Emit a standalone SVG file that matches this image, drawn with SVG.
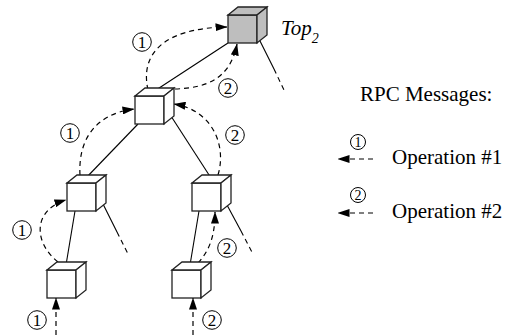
<svg xmlns="http://www.w3.org/2000/svg" xmlns:xlink="http://www.w3.org/1999/xlink" width="510" height="335" viewBox="0 0 510 335">
  <style>
    .edge { fill: none; stroke: #000; stroke-width: 1.1; }
    .leaf { fill: none; stroke: #000; stroke-width: 1.1; stroke-dasharray: 5 4; }
    .msg { fill: none; stroke: #000; stroke-width: 1.2; stroke-dasharray: 5 4; }
    .tag circle { fill: none; stroke: #000; stroke-width: 1; }
    .tag text { font-family: "Liberation Serif", serif; font-size: 17px; fill: #000; text-anchor: middle; }
    .tag-s circle { fill: none; stroke: #000; stroke-width: 1; }
    .tag-s text { font-family: "Liberation Serif", serif; font-size: 14px; fill: #000; text-anchor: middle; }
    .label { font-family: "Liberation Serif", serif; font-size: 21px; fill: #000; }
    .cube { stroke: #222; stroke-width: 1.3; stroke-linejoin: miter; }
  </style>
  <defs>
    <!-- unit cube: front face 29x28, depth offset (10,-8) -->
    <g id="cube-shape">
      <rect x="0" y="0" width="29" height="28"/>
      <path d="M0,0 L10,-8 L39,-8 L29,0 Z"/>
      <path d="M29,0 L39,-8 L39,20 L29,28 Z"/>
    </g>
    <marker id="head" markerUnits="userSpaceOnUse" markerWidth="12" markerHeight="8" viewBox="0 0 12 8" refX="11.5" refY="4" orient="auto">
      <path d="M0,0 L12,4 L0,8 Z" fill="#000"/>
    </marker>
  </defs>

  <!-- tree edges and message flows -->
  <g id="connectors">
    <!-- tree edges -->
    <path class="edge" d="M228,43 L153,92"/>
    <path class="edge" d="M138,124 L85,179"/>
    <path class="edge" d="M169,113 L211,178"/>
    <path class="edge" d="M75,211 L66,265"/>
    <path class="edge" d="M199,211 L190,265"/>
    <!-- subtrees not shown -->
    <path class="edge" d="M258,37 L274,69"/>
    <path class="leaf" d="M274,69 L284,90"/>
    <path class="edge" d="M102,202 L117,232"/>
    <path class="leaf" d="M117,232 L128,254"/>
    <path class="edge" d="M227,205 L241,231"/>
    <path class="leaf" d="M241,231 L253,254"/>

    <!-- operation 1 -->
    <path class="msg" marker-end="url(#head)" d="M148,90 C140,55 162,28 227,27"/>
    <path class="msg" marker-end="url(#head)" d="M80,175 C78,140 95,114 134,109"/>
    <path class="msg" marker-end="url(#head)" d="M58,262 C33,242 33,210 66,200"/>
    <path class="msg" marker-end="url(#head)" d="M56,335 L56,298"/>
    <!-- operation 2 -->
    <path class="msg" marker-end="url(#head)" d="M175,89 C205,88 230,80 237,44"/>
    <path class="msg" marker-end="url(#head)" d="M218,175 C227,145 212,110 174,104"/>
    <path class="msg" marker-end="url(#head)" d="M198,263 C210,250 215,235 215,212"/>
    <path class="msg" marker-end="url(#head)" d="M193,335 L193,298"/>

    <!-- circled message numbers -->
    <g class="tag" transform="translate(142,42)"><circle r="9.3"/><text y="6">1</text></g>
    <g class="tag" transform="translate(228,88)"><circle r="9.3"/><text y="6">2</text></g>
    <g class="tag" transform="translate(70,133)"><circle r="9.3"/><text y="6">1</text></g>
    <g class="tag" transform="translate(235,135)"><circle r="9.3"/><text y="6">2</text></g>
    <g class="tag" transform="translate(22,230)"><circle r="9.3"/><text y="6">1</text></g>
    <g class="tag" transform="translate(227,248)"><circle r="9.3"/><text y="6">2</text></g>
    <g class="tag" transform="translate(37,320)"><circle r="9.3"/><text y="6">1</text></g>
    <g class="tag" transform="translate(212,320)"><circle r="9.3"/><text y="6">2</text></g>
  </g>

  <!-- nodes -->
  <g id="top">
    <use xlink:href="#cube-shape" href="#cube-shape" class="cube" fill="#bebebe" transform="translate(228,15)"/>
    <text class="label" x="281" y="35" font-style="italic" font-size="20">Top<tspan font-size="14" dy="8">2</tspan></text>
  </g>
  <g id="node-l1">
    <use xlink:href="#cube-shape" href="#cube-shape" class="cube" fill="#fff" transform="translate(135,96)"/>
  </g>
  <g id="node-l2a">
    <use xlink:href="#cube-shape" href="#cube-shape" class="cube" fill="#fff" transform="translate(67,183)"/>
  </g>
  <g id="node-l2b">
    <use xlink:href="#cube-shape" href="#cube-shape" class="cube" fill="#fff" transform="translate(192,183)"/>
  </g>
  <g id="node-l3a">
    <use xlink:href="#cube-shape" href="#cube-shape" class="cube" fill="#fff" transform="translate(47,270)"/>
  </g>
  <g id="node-l3b">
    <use xlink:href="#cube-shape" href="#cube-shape" class="cube" fill="#fff" transform="translate(172,270)"/>
  </g>

  <!-- legend -->
  <g id="legend">
    <text class="label" x="360" y="101">RPC Messages:</text>
    <g class="tag-s" transform="translate(358,142)"><circle r="7.5"/><text y="5">1</text></g>
    <path class="msg" marker-end="url(#head)" d="M373,159 L338,159"/>
    <text class="label" x="392" y="164">Operation #1</text>
    <g class="tag-s" transform="translate(358,195)"><circle r="7.5"/><text y="5">2</text></g>
    <path class="msg" marker-end="url(#head)" d="M373,213 L338,213"/>
    <text class="label" x="392" y="218">Operation #2</text>
  </g>
</svg>
